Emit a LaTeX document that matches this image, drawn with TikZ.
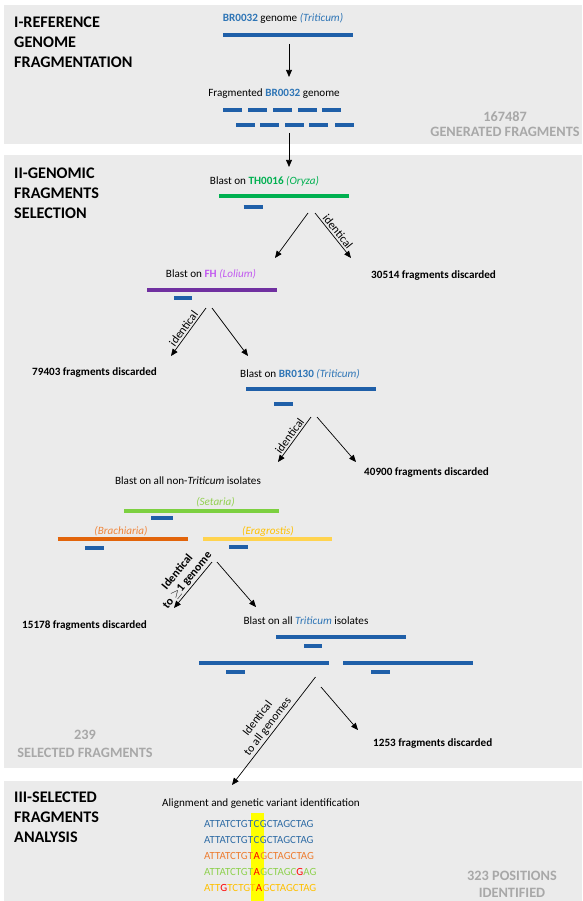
\documentclass[tikz,border=0pt]{standalone}
\usepackage{fontspec}
\setmainfont{Carlito}
\usepackage{xcolor}
\usetikzlibrary{positioning,arrows.meta,backgrounds}

\definecolor{panelgray}{HTML}{EBEBEB}
\definecolor{tallygray}{HTML}{A8A8A8}
\definecolor{genblue}{HTML}{1F5FA8}
\definecolor{txtblue}{HTML}{2E75B6}
\definecolor{oryzagreen}{HTML}{00B050}
\definecolor{loliumtxt}{HTML}{C25BF0}
\definecolor{loliumline}{HTML}{7030A0}
\definecolor{setariatxt}{HTML}{92D050}
\definecolor{setarialine}{HTML}{7CD040}
\definecolor{brachtxt}{HTML}{F0853A}
\definecolor{brachline}{HTML}{E2640A}
\definecolor{eragtxt}{HTML}{FFC000}
\definecolor{eragline}{HTML}{FFD34E}
\definecolor{seqblue}{HTML}{2F6CA5}
\definecolor{seqorange}{HTML}{ED7D31}
\definecolor{seqgreen}{HTML}{8FD14F}
\definecolor{seqyellow}{HTML}{FFC000}
\definecolor{seqred}{HTML}{FF0000}
\definecolor{hilite}{HTML}{FFFF00}

\begin{document}
\begin{tikzpicture}[x=0.03cm, y=-0.03cm,
  panel/.style={fill=panelgray},
  heading/.style={anchor=north west, align=left, inner sep=0pt, font=\fontsize{13.8}{17.1}\selectfont\bfseries},
  tally/.style={anchor=north, align=center, inner sep=0pt, text=tallygray, font=\fontsize{12.2}{14.5}\selectfont\bfseries},
  lab/.style={anchor=mid, inner sep=0pt, font=\fontsize{9.5}{11}\selectfont},
  discard/.style={anchor=mid west, inner sep=0pt, font=\fontsize{9.5}{11}\selectfont\bfseries},
  genome/.style={line width=2.6pt},
  frag/.style={genblue, line width=2.6pt},
  flow/.style={-{Triangle[length=6pt,width=5pt]}, line width=0.6pt},
  seq/.style={anchor=base west, inner sep=0pt, font=\fontsize{9.3}{11}\selectfont},
  armlab/.style={midway, sloped, above, inner sep=1.5pt, align=center, font=\fontsize{10}{11}\selectfont}]

  \useasboundingbox (0,0) rectangle (582,901);

  % Panels
  \begin{scope}[on background layer]
    \fill[panel] (4,5) rectangle (582,144);
    \fill[panel] (4,155) rectangle (582,768);
    \fill[panel] (4,781) rectangle (582,901);
  \end{scope}

  % I - reference genome fragmentation
  \node[heading] (h1) at (14,16.8) {I-REFERENCE\\GENOME\\FRAGMENTATION};
  \node[lab] (ref) at (283,19) {\textcolor{txtblue}{\bfseries BR0032} genome \textcolor{txtblue}{\itshape (Triticum)}};
  \draw[genome, genblue] (223,35) -- (353,35);
  \coordinate (a0) at (289,44);
  \coordinate (a1) at (289,77);
  \draw[flow] (a0) -- (a1);
  \node[lab] (fragd) at (274,94) {Fragmented \textcolor{txtblue}{\bfseries BR0032} genome};
  \foreach \x in {223,248,273,298,322} \draw[frag] (\x,110) -- ++(18.5,0);
  \foreach \x in {236,260,285,309,335} \draw[frag] (\x,125) -- ++(18.5,0);
  \node[tally] (gen) at (505,111) {167487\\[-1.7pt]GENERATED FRAGMENTS};

  % II - genomic fragments selection
  \coordinate (b0) at (289,133);
  \coordinate (b1) at (289,167);
  \draw[flow] (b0) -- (b1);
  \node[heading] (h2) at (14,167.8) {II-GENOMIC\\FRAGMENTS\\SELECTION};

  % Oryza
  \node[lab] (oryza) at (264.5,182) {Blast on \textcolor{oryzagreen}{\bfseries TH0016} \textcolor{oryzagreen}{\itshape (Oryza)}};
  \draw[genome, oryzagreen] (219,196) -- (349,196);
  \draw[frag] (243.5,207) -- (263,207);
  \coordinate (c0) at (308,213);
  \coordinate (c1) at (275,258);
  \coordinate (c2) at (315,213);
  \coordinate (c3) at (351,258);
  \draw[flow] (c0) -- (c1);
  \draw[flow] (c2) -- node[armlab] {identical} (c3);
  \node[discard] (d1) at (371,276) {30514 fragments discarded};

  % Lolium
  \node[lab] (lolium) at (211,275) {Blast on \textcolor{loliumtxt}{\bfseries FH} \textcolor{loliumtxt}{\itshape (Lolium)}};
  \draw[genome, loliumline] (147,290) -- (277,290);
  \draw[frag] (174,298) -- (192,298);
  \coordinate (e0) at (206,308);
  \coordinate (e1) at (171,356);
  \coordinate (e2) at (212,308);
  \coordinate (e3) at (248,356);
  \draw[flow] (e0) -- node[armlab] {identical} (e1);
  \draw[flow] (e2) -- (e3);
  \node[discard] (d2) at (32,373) {79403 fragments discarded};

  % BR0130
  \node[lab] (br) at (300,375) {Blast on \textcolor{txtblue}{\bfseries BR0130} \textcolor{txtblue}{\itshape (Triticum)}};
  \draw[genome, genblue] (246,389) -- (376,389);
  \draw[frag] (274,404) -- (292.5,404);
  \coordinate (f0) at (311,417);
  \coordinate (f1) at (278,462);
  \coordinate (f2) at (317,417);
  \coordinate (f3) at (356,462);
  \draw[flow] (f0) -- node[armlab] {identical} (f1);
  \draw[flow] (f2) -- (f3);
  \node[discard] (d3) at (364,473) {40900 fragments discarded};

  % non-Triticum isolates
  \node[lab] (nontri) at (188,482) {Blast on all non-\textit{Triticum} isolates};
  \node[lab, text=setariatxt] (setaria) at (215.5,503) {\itshape (Setaria)};
  \draw[genome, setarialine] (124,511) -- (279,511);
  \draw[frag] (151,518) -- (173,518);
  \node[lab, text=brachtxt] (brach) at (121,532) {\itshape (Brachiaria)};
  \draw[genome, brachline] (57.5,539) -- (187.5,539);
  \draw[frag] (85,548) -- (104,548);
  \node[lab, text=eragtxt] (erag) at (268,532) {\itshape (Eragrostis)};
  \draw[genome, eragline] (203,539) -- (332,539);
  \draw[frag] (229,547) -- (248,547);
  \coordinate (g0) at (212,562);
  \coordinate (g1) at (174,608);
  \coordinate (g2) at (217,562);
  \coordinate (g3) at (256,607);
  \draw[flow] (g0) -- node[armlab, font=\fontsize{10}{11}\selectfont\bfseries] {Identical\\to $\geq$1 genome} (g1);
  \draw[flow] (g2) -- (g3);
  \node[discard] (d4) at (22,626) {15178 fragments discarded};

  % all Triticum isolates
  \node[lab] (alltri) at (306,622) {Blast on all \textcolor{txtblue}{\itshape Triticum} isolates};
  \draw[genome, genblue] (276,637) -- (406,637);
  \draw[frag] (304,646) -- (322,646);
  \draw[genome, genblue] (199,663) -- (329,663);
  \draw[genome, genblue] (343,663) -- (473,663);
  \draw[frag] (226,672) -- (245,672);
  \draw[frag] (371,672) -- (390,672);
  \coordinate (k0) at (315.5,677);
  \coordinate (k1) at (232,785);
  \coordinate (k2) at (321,687);
  \coordinate (k3) at (358,730);
  \draw[flow] (k0) -- node[armlab] {Identical\\to all genomes} (k1);
  \draw[flow] (k2) -- (k3);
  \node[discard] (d5) at (373,744) {1253 fragments discarded};
  \node[tally] (sel) at (85,730) {239\\[0.9pt]SELECTED FRAGMENTS};

  % III - selected fragments analysis
  \node[heading] (h3) at (14,791.8) {III-SELECTED\\FRAGMENTS\\ANALYSIS};
  \node[lab] (aln) at (261,804) {Alignment and genetic variant identification};

  \node[seq, text=seqblue] (q1a) at (204,827.5) {ATTATCTGT};
  \node[seq, text=seqblue, base right=0pt of q1a] (q1b) {C};
  \node[seq, text=seqblue, base right=0pt of q1b] (q1c) {GCTAGCTAG};

  \node[seq, text=seqblue] (q2a) at (204,843.5) {ATTATCTGT};
  \node[seq, text=seqblue, base right=0pt of q2a] (q2b) {C};
  \node[seq, text=seqblue, base right=0pt of q2b] (q2c) {GCTAGCTAG};

  \node[seq, text=seqorange] (q3a) at (204,859.5) {ATTATCTGT};
  \node[seq, text=seqred, base right=0pt of q3a] (q3b) {A};
  \node[seq, text=seqorange, base right=0pt of q3b] (q3c) {GCTAGCTAG};

  \node[seq, text=seqgreen] (q4a) at (204,875.5) {ATTATCTGT};
  \node[seq, text=seqred, base right=0pt of q4a] (q4b) {A};
  \node[seq, text=seqgreen, base right=0pt of q4b] (q4c) {GCTAGC\textcolor{seqred}{G}AG};

  \node[seq, text=seqyellow] (q5a) at (204,891.5) {ATT\textcolor{seqred}{G}TCTGT};
  \node[seq, text=seqred, base right=0pt of q5a] (q5b) {A};
  \node[seq, text=seqyellow, base right=0pt of q5b] (q5c) {GCTAGCTAG};

  % variant column
  \path (q1b.west) ++(-2,0) coordinate (hlL) (q1b.east) ++(4.5,0) coordinate (hlR);
  \coordinate (hlT) at (0,813);
  \coordinate (hlB) at (0,901);
  \begin{scope}[on background layer]
    \fill[hilite] (hlL |- hlT) rectangle (hlR |- hlB);
  \end{scope}

  \node[tally] (pos) at (512,871) {323 POSITIONS\\IDENTIFIED};

\end{tikzpicture}
\end{document}
